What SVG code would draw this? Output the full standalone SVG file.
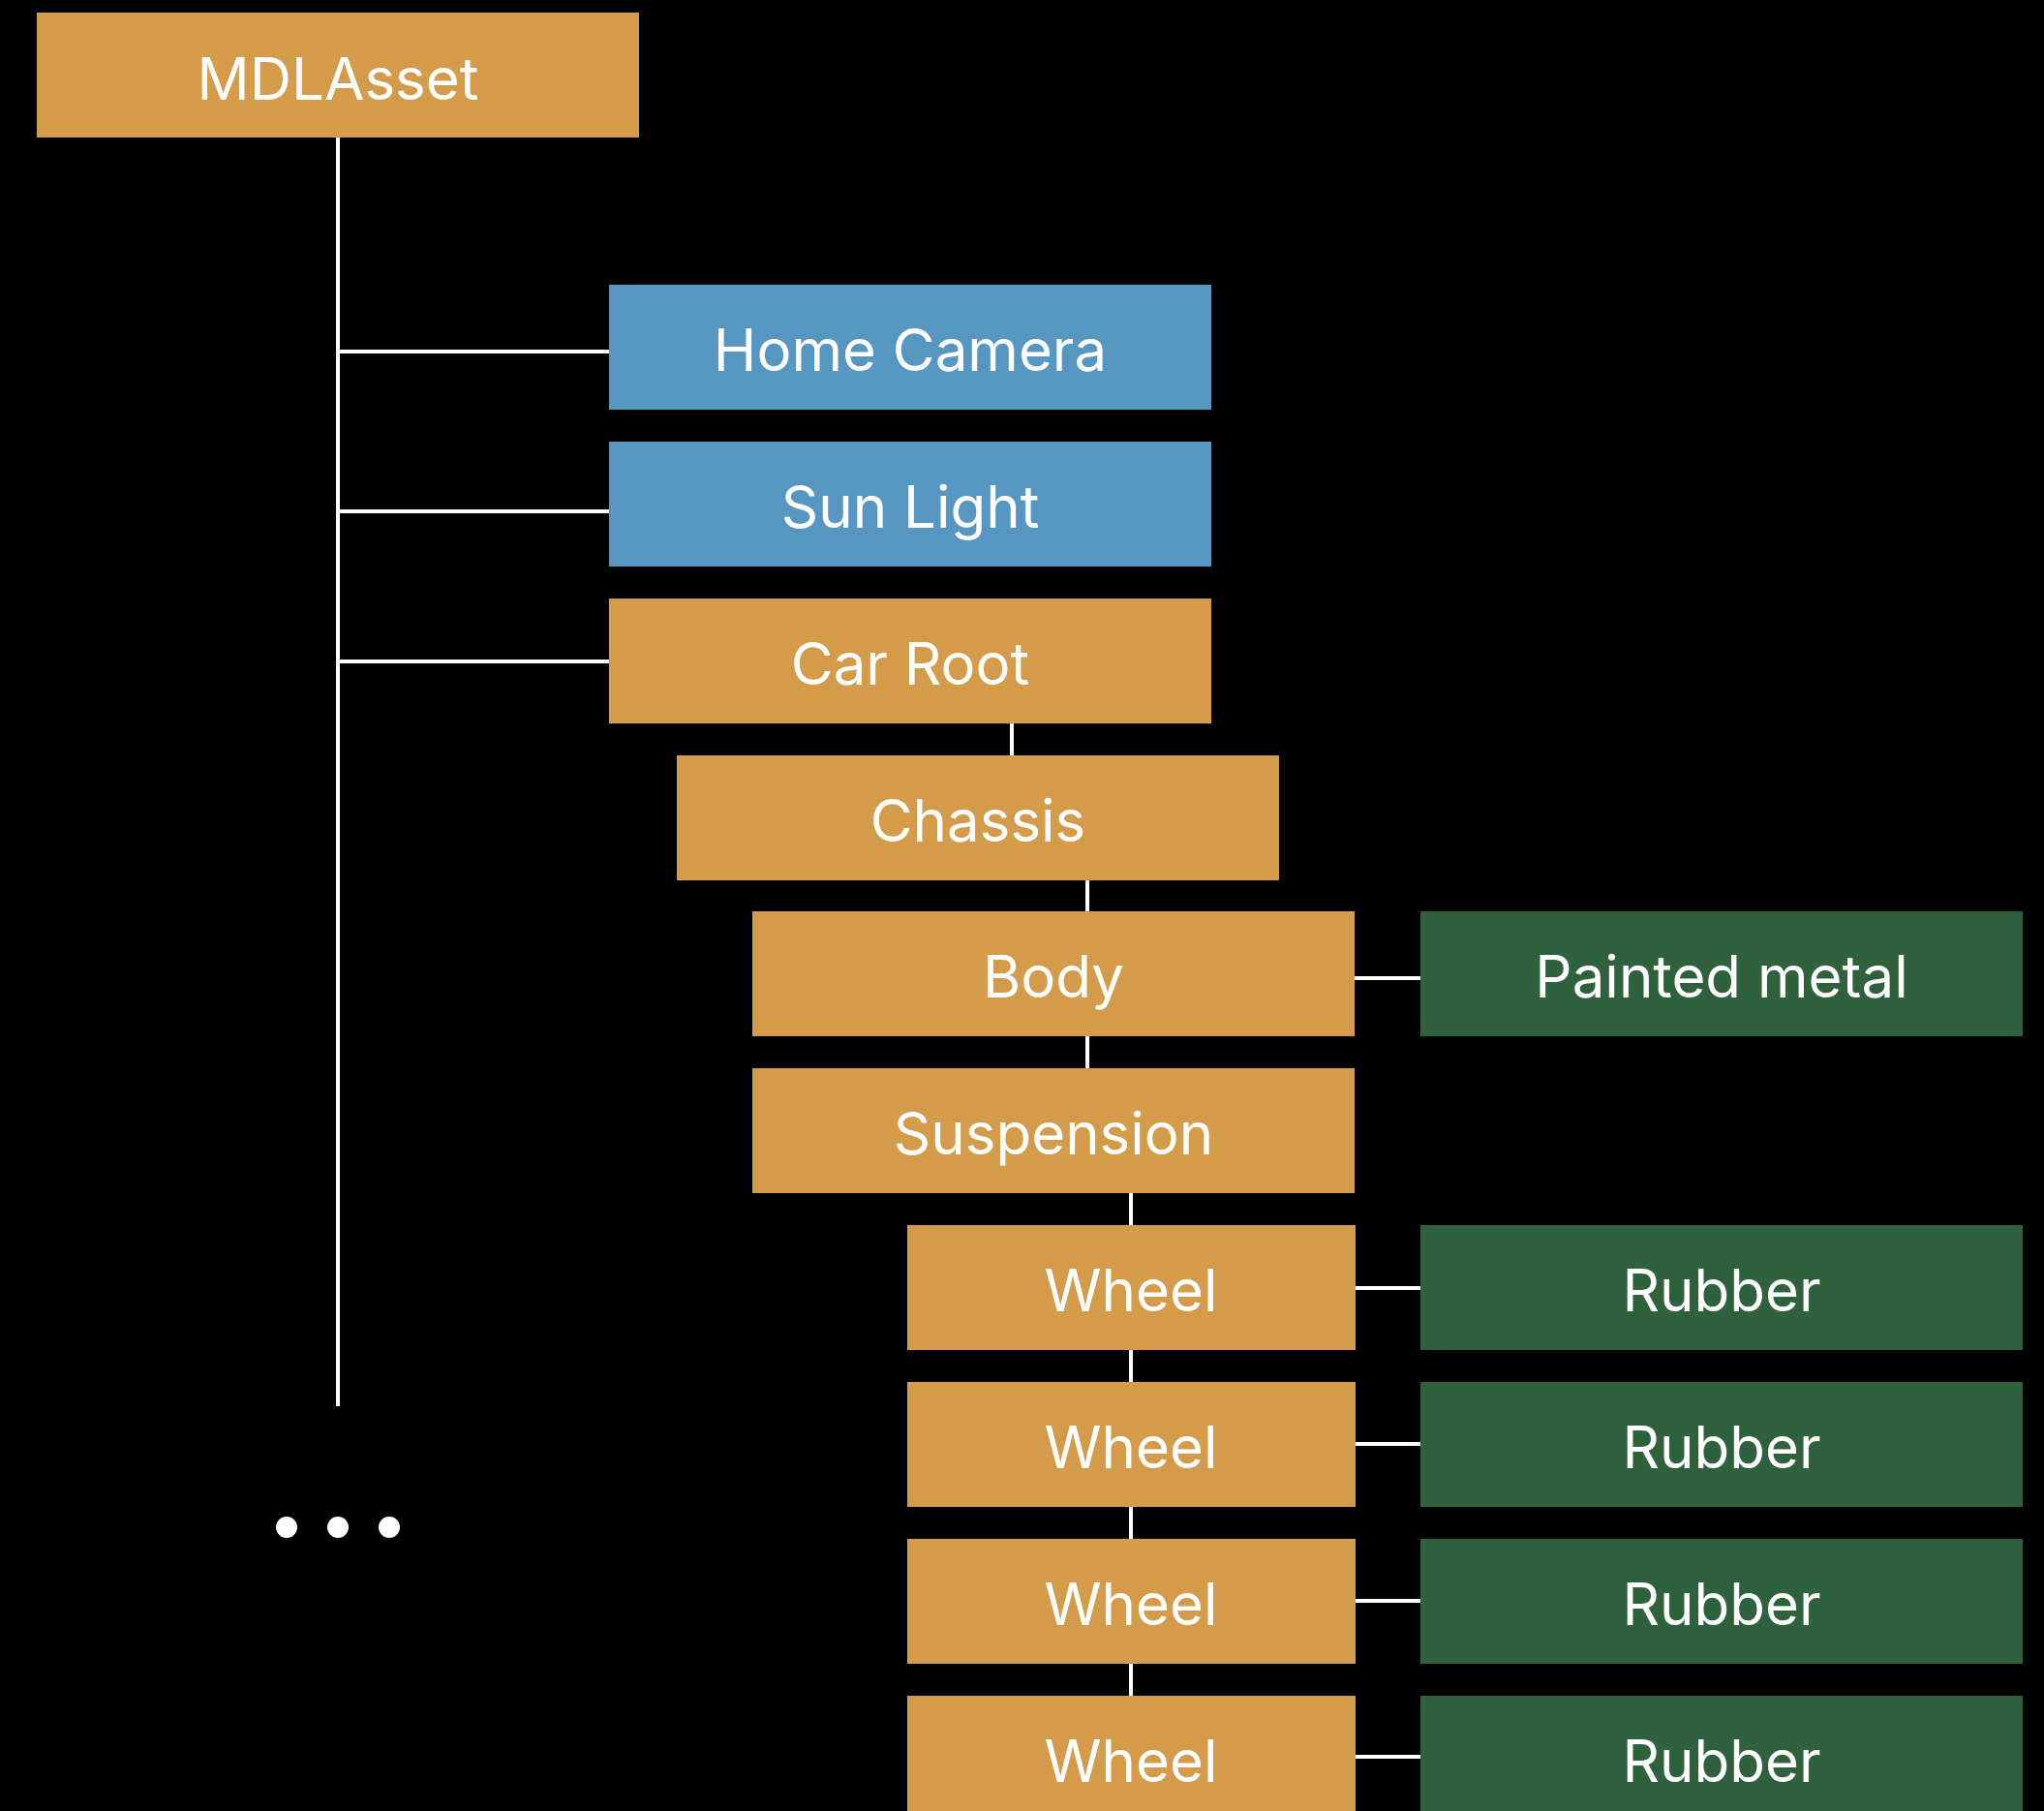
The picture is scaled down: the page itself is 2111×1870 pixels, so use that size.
<svg xmlns="http://www.w3.org/2000/svg" width="2111" height="1870" viewBox="0 0 2111 1870">
<style>
.o{fill:#D39B4A}.b{fill:#5597C1}.g{fill:#30613D}
text{font-family:Inter,"Liberation Sans",sans-serif;font-size:60px;fill:#FFFFFF;text-anchor:middle}
.c line{stroke:#FFFFFF;stroke-width:4}
</style>
<rect width="2111" height="1870" fill="#000000"/>
<g class="c" id="connectors">
<line x1="349" y1="142" x2="349" y2="1452"/>
<line x1="349" y1="363" x2="629" y2="363"/>
<line x1="349" y1="528" x2="629" y2="528"/>
<line x1="349" y1="683" x2="629" y2="683"/>
<line x1="1045" y1="747" x2="1045" y2="780"/>
<line x1="1123" y1="909" x2="1123" y2="941"/>
<line x1="1123" y1="1070" x2="1123" y2="1103"/>
<line x1="1399" y1="1010" x2="1467" y2="1010"/>
<line x1="1168" y1="1232" x2="1168" y2="1265"/>
<line x1="1168" y1="1394" x2="1168" y2="1427"/>
<line x1="1168" y1="1556" x2="1168" y2="1589"/>
<line x1="1168" y1="1718" x2="1168" y2="1751"/>
<line x1="1400" y1="1330" x2="1467" y2="1330"/>
<line x1="1400" y1="1491" x2="1467" y2="1491"/>
<line x1="1400" y1="1653" x2="1467" y2="1653"/>
<line x1="1400" y1="1814" x2="1467" y2="1814"/>
</g>
<g id="mdlasset"><rect class="o" x="38" y="13" width="622" height="129"/><text x="349" y="103">MDLAsset</text></g>
<g id="homecamera"><rect class="b" x="629" y="294" width="622" height="129"/><text x="940" y="383">Home Camera</text></g>
<g id="sunlight"><rect class="b" x="629" y="456" width="622" height="129"/><text x="940" y="545">Sun Light</text></g>
<g id="carroot"><rect class="o" x="629" y="618" width="622" height="129"/><text x="940" y="707">Car Root</text></g>
<g id="chassis"><rect class="o" x="699" y="780" width="622" height="129"/><text x="1010" y="869">Chassis</text></g>
<g id="body"><rect class="o" x="777" y="941" width="622" height="129"/><text x="1088" y="1030">Body</text></g>
<g id="paintedmetal"><rect class="g" x="1467" y="941" width="622" height="129"/><text x="1778" y="1030">Painted metal</text></g>
<g id="suspension"><rect class="o" x="777" y="1103" width="622" height="129"/><text x="1088" y="1192">Suspension</text></g>
<g id="wheel1"><rect class="o" x="937" y="1265" width="463" height="129"/><text x="1168" y="1354">Wheel</text></g>
<g id="rubber1"><rect class="g" x="1467" y="1265" width="622" height="129"/><text x="1778" y="1354">Rubber</text></g>
<g id="wheel2"><rect class="o" x="937" y="1427" width="463" height="129"/><text x="1168" y="1516">Wheel</text></g>
<g id="rubber2"><rect class="g" x="1467" y="1427" width="622" height="129"/><text x="1778" y="1516">Rubber</text></g>
<g id="wheel3"><rect class="o" x="937" y="1589" width="463" height="129"/><text x="1168" y="1678">Wheel</text></g>
<g id="rubber3"><rect class="g" x="1467" y="1589" width="622" height="129"/><text x="1778" y="1678">Rubber</text></g>
<g id="wheel4"><rect class="o" x="937" y="1751" width="463" height="129"/><text x="1168" y="1840">Wheel</text></g>
<g id="rubber4"><rect class="g" x="1467" y="1751" width="622" height="129"/><text x="1778" y="1840">Rubber</text></g>
<g id="ellipsis" fill="#FFFFFF"><circle cx="296" cy="1577" r="11"/><circle cx="349" cy="1577" r="11"/><circle cx="402" cy="1577" r="11"/></g>
</svg>
